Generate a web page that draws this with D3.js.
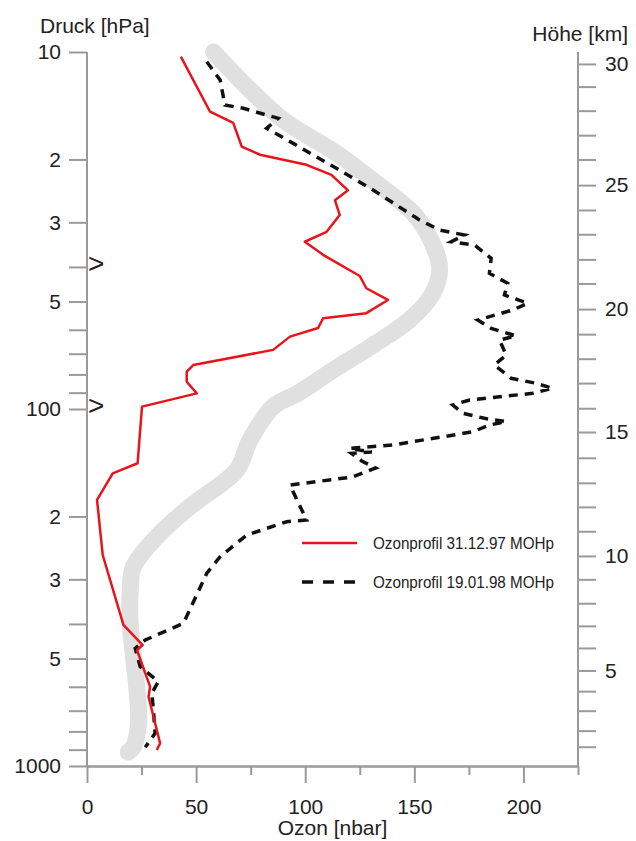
<!DOCTYPE html>
<html>
<head>
<meta charset="utf-8">
<script src="https://cdn.jsdelivr.net/npm/d3@7"></script>
<style>
  body { margin: 0; background: #fff; }
  svg { display: block; font-family: "Liberation Sans", Arial, sans-serif; }
  .axis path, .axis line { stroke: #9a9a9a; stroke-width: 2; }
  .axis text { font-size: 21px; fill: #222; }
  .title { font-size: 21px; fill: #222; }
  .legend text { font-size: 17px; fill: #222; }
</style>
</head>
<body>
<div id="vis"></div>
<script>
// pressure axis ticks (hPa) and their printed labels
var pressureTicks = [10, 20, 30, 40, 50, 60, 70, 80, 90, 100, 200, 300, 400, 500, 600, 700, 800, 900, 1000];
var pressureLabels = ["10", "2", "3", "", "5", "", "", "", "", "100", "2", "3", "", "5", "", "", "", "", "1000"];
var markerPressures = [40, 100];

// height axis: km and the pressure level where it sits
var heightKm = [1, 2, 3, 4, 5, 6, 7, 8, 9, 10, 11, 12, 13, 14, 15, 16, 17, 18, 19, 20, 21, 22, 23, 24, 25, 26, 27, 28, 29, 30];
var heightHPa = [883, 796, 700, 617, 540, 467, 405, 350, 300, 258, 220, 188, 161, 137, 116, 99.5, 84.6, 72.3, 61.7, 52.5, 44.5, 38.1, 32.4, 27.7, 23.6, 20.0, 17.1, 14.6, 12.5, 10.8];

var ozoneMajor = [0, 50, 100, 150, 200];
var ozoneMinor = [25, 75, 125, 175, 225];

// Ozonprofil 31.12.97
var redPressure = [10.3, 14.7, 15.8, 18.4, 19.4, 20.7, 22.1, 24.4, 26.0, 28.6, 31.9, 34.0, 37.0, 42.4, 45.9, 49.5, 53.9, 55.7, 59.3, 62.7, 68.3, 75.3, 78.6, 83.9, 90.4, 98.5, 141.9, 151.4, 179.8, 256.4, 402.7, 458.3, 473.2, 599.6, 639.6, 863.9, 902.3];
var redOzone = [43.0, 56.4, 67.0, 70.9, 79.3, 100.6, 112.0, 119.6, 113.6, 115.8, 109.8, 99.8, 108.2, 125.0, 128.0, 137.9, 128.0, 108.2, 105.9, 93.0, 85.3, 48.7, 45.7, 45.7, 50.3, 25.2, 23.2, 11.8, 4.6, 7.2, 16.7, 25.5, 22.9, 28.9, 28.2, 33.5, 32.0];

// Ozonprofil 19.01.98
var blackPressure = [10.65, 11.98, 14.08, 14.38, 15.34, 16.36, 18.03, 21.17, 24.35, 29.55, 31.52, 32.56, 34.0, 34.72, 37.84, 41.69, 44.45, 47.94, 50.57, 52.8, 56.33, 59.43, 62.4, 64.1, 70.59, 75.31, 82.04, 84.72, 87.5, 90.37, 94.37, 97.46, 102.8, 106.2, 108.5, 110.9, 115.8, 119.6, 126.1, 128.9, 131.9, 133.1, 139.8, 146.3, 155.0, 163.3, 204.6, 206.9, 225.4, 259.3, 288.5, 398.4, 443.6, 468.0, 527.3, 580.6, 624.5, 704.6, 809.6, 886.5];
var blackOzone = [54.9, 61.0, 63.2, 71.6, 87.6, 82.3, 94.5, 114.3, 131.1, 152.4, 161.6, 173.0, 166.9, 177.6, 185.2, 184.4, 192.8, 191.3, 201.9, 195.1, 179.1, 185.2, 196.6, 189.0, 192.1, 186.7, 194.4, 205.8, 213.4, 204.2, 175.3, 167.6, 172.2, 182.1, 192.1, 184.4, 176.8, 163.1, 140.2, 120.4, 130.5, 121.2, 125.9, 132.3, 121.8, 93.0, 100.6, 91.5, 73.2, 61.0, 54.9, 44.2, 26.7, 22.1, 24.4, 32.7, 29.7, 30.5, 31.2, 26.7];

// grey mean profile
var meanPressure = [10, 12.5, 15.5, 19.2, 23.3, 28.9, 36.6, 40.8, 47.4, 56.3, 66.2, 77.8, 90.4, 98.5, 122.1, 148.2, 187.8, 227.9, 276.5, 321.4, 398.4, 494.1, 612.4, 759.5, 883, 914];
var meanOzone = [58, 73.2, 89.9, 114.3, 132.6, 150.9, 160.1, 161.6, 158.5, 147.8, 131.1, 112.8, 96.6, 85.3, 74.7, 68.6, 47.2, 32.0, 21.3, 19.8, 19.8, 21.3, 22.9, 23.6, 21.3, 18.9];

var legendLabels = ["Ozonprofil 31.12.97 MOHp", "Ozonprofil 19.01.98 MOHp"];

var margin = {top: 52, right: 58, bottom: 75, left: 87},
    width = 636 - margin.left - margin.right,
    height = 841 - margin.top - margin.bottom;

var svg = d3.select("#vis").append("svg")
    .attr("width", 636)
    .attr("height", 841);

var g = svg.append("g")
    .attr("transform", "translate(" + margin.left + "," + margin.top + ")");

var x = d3.scaleLinear().domain([0, 225]).range([0, width]);
var y = d3.scaleLog().domain([10, 1000]).range([0, height]);
var yKm = d3.scaleLinear().domain(heightKm).range(heightHPa.map(function(p){ return y(p); }));

// lines
var line = d3.line()
    .x(function(d){ return x(d[1]); })
    .y(function(d){ return y(d[0]); });

g.append("path")
    .datum(d3.zip(meanPressure, meanOzone))
    .attr("fill", "none")
    .attr("stroke", "#e0e0e0")
    .attr("stroke-width", 17)
    .attr("stroke-linecap", "round")
    .attr("stroke-linejoin", "round")
    .attr("d", line.curve(d3.curveCatmullRom));

line.curve(d3.curveLinear);

g.append("path")
    .datum(d3.zip(blackPressure, blackOzone))
    .attr("fill", "none")
    .attr("stroke", "#111")
    .attr("stroke-width", 3.5)
    .attr("stroke-dasharray", "9,7")
    .attr("d", line);

g.append("path")
    .datum(d3.zip(redPressure, redOzone))
    .attr("fill", "none")
    .attr("stroke", "#e8141c")
    .attr("stroke-width", 2.5)
    .attr("stroke-linejoin", "round")
    .attr("d", line);

// axes
g.append("g")
    .attr("class", "axis")
    .call(d3.axisLeft(y)
        .tickValues(pressureTicks)
        .tickFormat(function(d, i){ return pressureLabels[i]; })
        .tickSize(18).tickSizeOuter(0).tickPadding(8))
    .call(function(a){ a.select(".domain").attr("d", "M0,0V" + height); });

g.append("g")
    .attr("class", "axis")
    .attr("transform", "translate(" + width + ",0)")
    .call(d3.axisRight(yKm)
        .tickValues(heightKm)
        .tickFormat(function(d){ return d % 5 === 0 ? d : ""; })
        .tickSize(18).tickSizeOuter(0).tickPadding(9))
    .call(function(a){ a.select(".domain").attr("d", "M0,0V" + height); });

g.append("g")
    .attr("class", "axis")
    .attr("transform", "translate(0," + height + ")")
    .call(d3.axisBottom(x).tickValues(ozoneMinor).tickFormat("").tickSize(9).tickSizeOuter(0));

g.append("g")
    .attr("class", "axis")
    .attr("transform", "translate(0," + height + ")")
    .call(d3.axisBottom(x).tickValues(ozoneMajor).tickSize(17).tickSizeOuter(0).tickPadding(16));

g.selectAll(".axis text").attr("font-family", null);

// ">" markers
g.selectAll(".marker").data(markerPressures).enter()
    .append("text")
    .attr("class", "marker")
    .attr("x", 1)
    .attr("y", function(d){ return y(d) + 6; })
    .attr("font-size", 28)
    .attr("fill", "#222")
    .text(">");

// titles
svg.append("text").attr("class", "title").attr("x", 40).attr("y", 33).text("Druck [hPa]");
svg.append("text").attr("class", "title").attr("x", 628).attr("y", 41).attr("text-anchor", "end").text("Höhe [km]");
svg.append("text").attr("class", "title").attr("x", margin.left + width / 2).attr("y", 835).attr("text-anchor", "middle").text("Ozon [nbar]");

// legend
var legend = svg.append("g").attr("class", "legend").attr("transform", "translate(302,543)");
var rows = legend.selectAll("g").data(legendLabels).enter()
    .append("g")
    .attr("transform", function(d, i){ return "translate(0," + i * 39 + ")"; });

rows.append("line")
    .attr("x1", 0).attr("x2", 55)
    .attr("stroke", function(d, i){ return i ? "#111" : "#e8141c"; })
    .attr("stroke-width", function(d, i){ return i ? 3.5 : 2.5; })
    .attr("stroke-dasharray", function(d, i){ return i ? "11,10" : null; });

rows.append("text")
    .attr("x", 71)
    .attr("y", 6)
    .attr("textLength", 181)
    .attr("lengthAdjust", "spacingAndGlyphs")
    .text(function(d){ return d; });
</script>
</body>
</html>
